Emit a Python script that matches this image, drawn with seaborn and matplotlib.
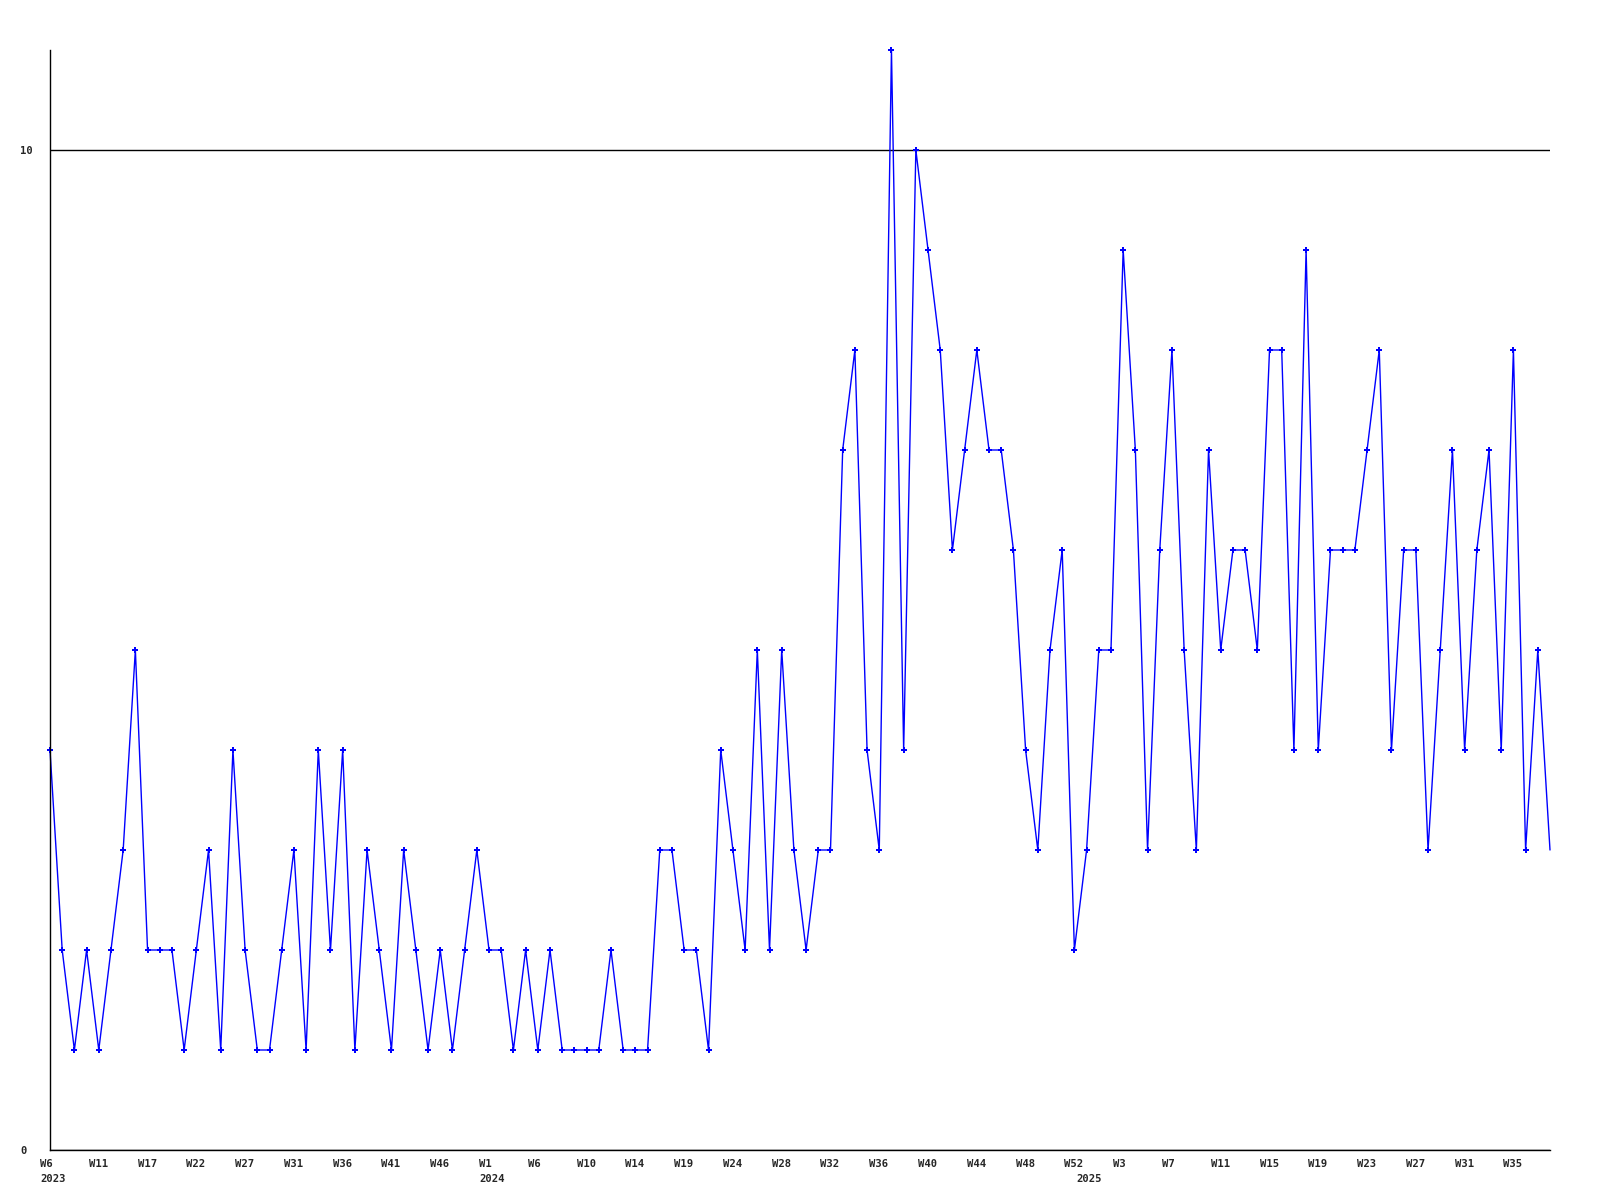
import matplotlib
matplotlib.use("Agg")
import matplotlib.pyplot as plt
import matplotlib.transforms as mtransforms
import seaborn as sns
import pandas as pd

# ---- data ----
values = [4, 2, 1, 2, 1, 2, 3, 5, 2, 2, 2, 1, 2, 3, 1, 4, 2, 1, 1, 2, 3, 1, 4, 2, 4, 1, 3, 2, 1,
          3, 2, 1, 2, 1, 2, 3, 2, 2, 1, 2, 1, 2, 1, 1, 1, 1, 2, 1, 1, 1, 3, 3, 2, 2, 1, 4, 3, 2, 5, 2, 5, 3,
          2, 3, 3, 7, 8, 4, 3, 11, 4, 10, 9, 8, 6, 7, 8, 7, 7, 6, 4, 3, 5, 6, 2, 3, 5, 5, 9, 7, 3, 6, 8,
          5, 3, 7, 5, 6, 6, 5, 8, 8, 4, 9, 4, 6, 6, 6, 7, 8, 4, 6, 6, 3, 5, 7, 4, 6, 7, 4, 8, 3, 5, 3]
week_labels = ["W6", "W11", "W17", "W22", "W27", "W31", "W36", "W41", "W46", "W1", "W6", "W10",
               "W14", "W19", "W24", "W28", "W32", "W36", "W40", "W44", "W48", "W52", "W3", "W7",
               "W11", "W15", "W19", "W23", "W27", "W31", "W35"]
label_step = 4
year_labels = ["2023", "2024", "2025"]
year_positions = [0, 36, 85]
y_ticks = [0, 10]

df = pd.DataFrame({"idx": list(range(len(values))), "value": values})

sns.set_style("white")
plt.rcParams["font.family"] = ["DejaVu Sans Mono"]
plt.rcParams["font.weight"] = "bold"

fig = plt.figure(figsize=(16, 12), dpi=100)
ax = fig.add_axes([50 / 1600, 1 - 1150 / 1200, (1550 - 50) / 1600, 1100 / 1200])

sns.lineplot(data=df, x="idx", y="value", ax=ax, color="#0000ff", linewidth=1.0,
             marker="P", markersize=3.8, markeredgewidth=0, markerfacecolor="#0000ff",
             markevery=list(range(len(values) - 1)), clip_on=False)

ax.set_xlim(0, len(values) - 1)
ax.set_ylim(0, 11)
ax.set_xlabel("")
ax.set_ylabel("")

for s in ["top", "right"]:
    ax.spines[s].set_visible(False)
for s in ["left", "bottom"]:
    ax.spines[s].set_color("black")
    ax.spines[s].set_linewidth(1.0)

ax.set_yticks(y_ticks)
ax.set_yticklabels([str(t) for t in y_ticks])
ax.yaxis.grid(True, color="black", linewidth=1.0)
ax.xaxis.grid(False)
ax.set_axisbelow(True)

tick_pos = list(range(0, label_step * len(week_labels), label_step))
ax.set_xticks(tick_pos)
ax.set_xticklabels(week_labels)
ax.tick_params(axis="x", length=0, pad=6.5, labelsize=7.6)
ax.tick_params(axis="y", length=0, pad=0, labelsize=7.6)

shift_x = mtransforms.ScaledTranslation(-10 / 100, 0, fig.dpi_scale_trans)
for lab in ax.get_xticklabels():
    lab.set_horizontalalignment("left")
    lab.set_transform(lab.get_transform() + shift_x)
    lab.set_fontweight("bold")

shift_y = mtransforms.ScaledTranslation(-30 / 100, 0, fig.dpi_scale_trans)
for lab in ax.get_yticklabels():
    lab.set_horizontalalignment("left")
    lab.set_transform(lab.get_transform() + shift_y)
    lab.set_fontweight("bold")

for yl, xp in zip(year_labels, year_positions):
    ax.annotate(yl, xy=(xp, 0), xycoords=("data", "axes fraction"),
                xytext=(-10, -24), textcoords="offset pixels",
                ha="left", va="top", fontsize=7.6, fontweight="bold")

fig.savefig("out.png", dpi=100, facecolor="white")
